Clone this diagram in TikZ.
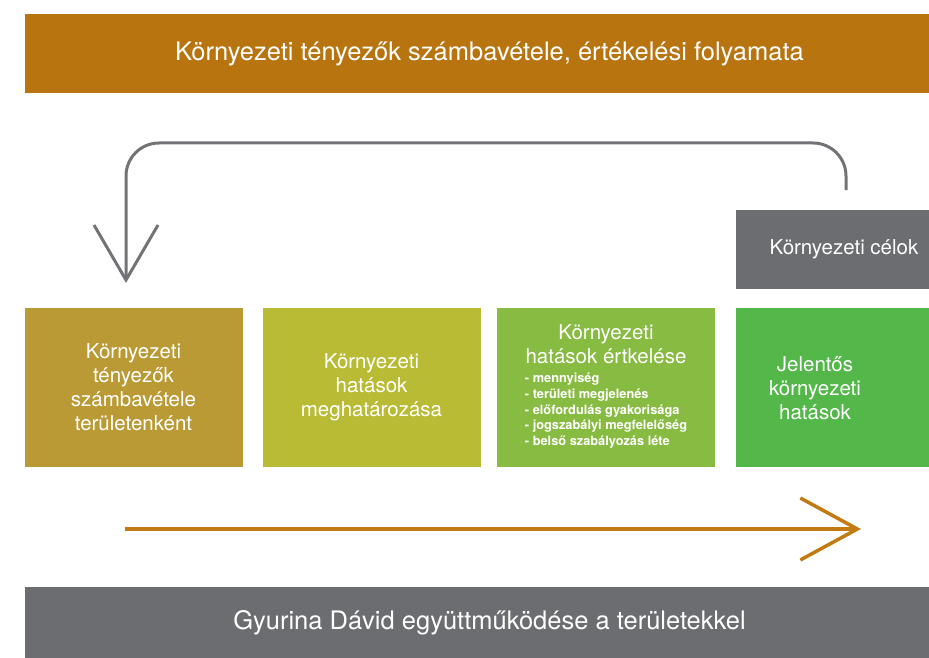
\documentclass[tikz,border=0pt]{standalone}
\usepackage{fontspec}
\setmainfont{TeX Gyre Heros}
\usetikzlibrary{arrows.meta}
\definecolor{barbrown}{HTML}{B8740F}
\definecolor{boxone}{HTML}{BA9A34}
\definecolor{boxtwo}{HTML}{B9BB35}
\definecolor{boxthree}{HTML}{88BB41}
\definecolor{boxfour}{HTML}{53B849}
\definecolor{bargray}{HTML}{6C6D71}
\definecolor{loopgray}{HTML}{727377}
\definecolor{floworange}{HTML}{C27B12}
\begin{document}
\begin{tikzpicture}[x=1pt, y=-1pt,
  bar/.style = {rectangle, inner sep=0pt, minimum width=929pt, text=white, font=\fontsize{25.5}{30}\selectfont},
  main/.style = {rectangle, inner sep=0pt, minimum width=218pt, minimum height=159pt, text=white, align=center, font=\fontsize{20.5}{24}\selectfont},
  lbl/.style = {inner sep=0pt, text=white, align=center, font=\fontsize{20.5}{24}\selectfont},
  back/.style = {draw=loopgray, line width=3pt, rounded corners=33pt, -{Straight Barb[length=55pt, width=64pt]}},
  flow/.style = {draw=floworange, line width=3.5pt, -{Straight Barb[length=57pt, width=62pt]}}]
  \useasboundingbox (0,0) rectangle (929,658);
  % bars
  \node[bar, fill=barbrown, minimum height=79pt] (top) at (489.5,53.5) {Környezeti tényezők számbavétele, értékelési folyamata};
  \node[bar, fill=bargray, minimum height=71pt] (bottom) at (489.5,622.5) {Gyurina Dávid együttműködése a területekkel};
  % boxes
  \node[main, fill=boxone] (b1) at (133.5,387.5) {Környezeti\\tényezők\\számbavétele\\területenként};
  \node[main, fill=boxtwo] (b2) at (371.5,387.5) {Környezeti\\hatások\\meghatározása};
  \node[main, fill=boxthree] (b3) at (606,387.5) {Környezeti\\hatások értkelése\\[-5pt]
    {\fontsize{12.8}{15.8}\selectfont\bfseries\begin{tabular}[t]{@{}l@{}}- mennyiség\\- területi megjelenés\\- előfordulás gyakorisága\\- jogszabályi megfelelőség\\- belső szabályozás léte\end{tabular}}};
  \node[main, fill=boxfour, minimum width=193pt] (b4) at (832.5,387.5) {};
  \node[lbl] (t4) at (815,388) {Jelentős\\környezeti\\hatások};
  \node[main, fill=bargray, minimum width=216pt, minimum height=79pt] (goal) at (844,249.5) {Környezeti célok};
  % arrows
  \coordinate (loopstart) at (846,190);
  \coordinate (loopend) at (126,283);
  \coordinate (flowstart) at (125,529);
  \coordinate (flowend) at (861,529);
  \draw[back] (loopstart) -- (846,143) -| (loopend);
  \draw[flow] (flowstart) to (flowend);
\end{tikzpicture}
\end{document}
